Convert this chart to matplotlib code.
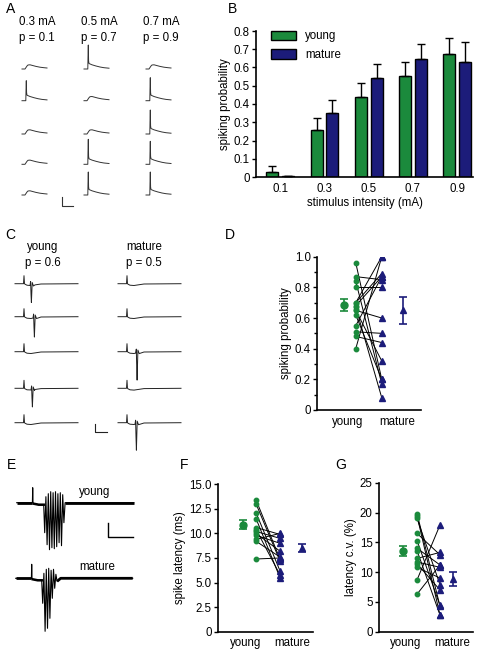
import matplotlib.pyplot as plt
import numpy as np
from matplotlib.ticker import MultipleLocator

plt.rcParams['font.family'] = ['Liberation Sans', 'DejaVu Sans']
plt.rcParams['font.size'] = 8.3

W, H = 481, 649
GREEN = '#1b8a3c'
NAVY = '#1c1c7a'

# ---- B: spiking probability vs stimulus intensity
intensity = ['0.1', '0.3', '0.5', '0.7', '0.9']
young_p = [0.03, 0.26, 0.44, 0.555, 0.675]
young_p_err = [0.03, 0.065, 0.075, 0.075, 0.085]
mature_p = [0.005, 0.35, 0.54, 0.645, 0.63]
mature_p_err = [0.0, 0.07, 0.08, 0.085, 0.11]

# ---- D: paired spiking probability
d_young = [0.96, 0.87, 0.84, 0.80, 0.70, 0.70, 0.68, 0.67, 0.65, 0.65, 0.55, 0.51, 0.48, 0.40, 0.62]
d_mature = [0.20, 0.85, 0.17, 0.80, 1.00, 0.89, 0.87, 0.08, 0.60, 0.32, 0.87, 0.50, 0.44, 1.00, 0.20]
d_mean = [0.685, 0.65]
d_sem = [0.042, 0.088]

# ---- F: spike latency (ms)
f_young = [13.4, 13.0, 12.1, 11.5, 10.6, 10.4, 10.2, 10.0, 9.8, 9.4, 9.2, 7.4]
f_mature = [7.4, 7.2, 6.2, 5.5, 9.9, 5.8, 9.5, 8.2, 9.0, 10.0, 7.6, 7.5]
f_mean = [10.9, 8.5]
f_sem = [0.45, 0.42]

# ---- G: latency c.v. (%)
g_young = [19.8, 19.4, 19.0, 16.5, 15.3, 14.0, 13.6, 12.3, 11.7, 11.4, 10.8, 8.7, 6.3]
g_mature = [4.3, 2.8, 7.9, 12.9, 4.4, 11.2, 2.8, 13.3, 10.8, 7.0, 9.0, 17.9, 11.2]
g_mean = [13.5, 8.85]
g_sem = [0.85, 1.25]

groups = ['young', 'mature']

# ---- example traces (sample points, px)
epsp_t = [0, 3, 4, 5, 6, 8, 11, 14, 18, 22, 25]
epsp_v = [0, 0, 1.5, 3.0, 4.0, 4.2, 3.4, 2.6, 1.8, 1.3, 1.0]
a_spikes = [[0, 20, 0, 0, 0],      # 0.3 mA
            [24, 0, 0, 25, 23],    # 0.5 mA
            [0, 23, 24, 23, 23]]   # 0.7 mA
a_cols = ['0.3 mA\np = 0.1', '0.5 mA\np = 0.7', '0.7 mA\np = 0.9']

c_base_t = [0, 8.5, 9, 9.5, 10, 12, 16, 20, 26, 63]
c_base_v = [0, 0, 8, 0, -0.5, -1.5, -1.8, -1.2, -0.3, 0]
c_young = [(16, 17), (19, 19), None, (17, 17), None]
c_mature = [None, None, (18.7, 27), None, (18, 26)]

e_young_t = [0, 15.7, 16, 16.3, 17, 22, 27, 28, 29.2, 30.4, 31.6, 32.8, 34, 35.2, 36.4, 37.6,
             38.8, 40, 41.2, 42.4, 43.6, 44.8, 46, 47.2, 48.4, 52, 117]
e_young_v = [0, 0, 15, 0, -1, -2, -2, -30, 6, -42, 9, -47, 11, -45, 10, -46, 11, -44, 9, -40,
             10, -43, 8, -20, 0, 0, 0]
e_mature_t = [0, 15.7, 16, 16.3, 17, 22, 26, 27, 28.2, 29.4, 30.6, 31.8, 33, 34.2, 35.4, 36.6,
              37.8, 39, 40.2, 41.4, 45, 117]
e_mature_v = [0, 0, 14, 0, -1, -2, -2, -25, 5, -53, 9, -50, 10, -40, 8, -20, 9, -10, 4, -3,
              0, 0]

fig = plt.figure(figsize=(W / 100, H / 100), dpi=100)


def place(l, t, r, b):
    return fig.add_axes([l / W, 1 - b / H, (r - l) / W, (b - t) / H])


def style(ax):
    for s in ['top', 'right']:
        ax.spines[s].set_visible(False)
    for s in ['left', 'bottom']:
        ax.spines[s].set_linewidth(1.2)
    ax.tick_params(axis='y', width=1.0, length=3, pad=1.5)
    ax.tick_params(axis='x', length=0, pad=4)


# overlay in pixel coordinates for traces, scale bars and labels
tr = fig.add_axes([0, 0, 1, 1])
tr.set_xlim(0, W)
tr.set_ylim(H, 0)
tr.axis('off')

for lbl, (x, y) in zip('ABCDEFG', [(6, 9), (228, 9), (5, 235), (225, 235),
                                      (7, 465), (180, 465), (335, 465)]):
    tr.text(x, y, lbl, fontsize=10, ha='left', va='center')

# A
a_x = [22, 84, 146]
a_y = [69, 100.7, 134, 164.3, 195]
for ci, x0 in enumerate(a_x):
    tr.text(x0 - 3, 30, a_cols[ci], ha='left', va='center', linespacing=1.35)
    for ri, y0 in enumerate(a_y):
        h = a_spikes[ci][ri]
        if h:
            t = [0, 3.8, 4.0, 4.3, 4.6, 5.0, 8, 12, 16, 20, 25]
            v = [0, 0, h / 2, h, 8, 5.5, 4.2, 3, 2, 1.3, 0.8]
        else:
            t, v = epsp_t, epsp_v
        tr.plot(x0 + np.array(t), y0 - np.array(v), color='#333333', lw=0.7)
tr.plot([61.7, 61.7, 72.7], [196.7, 206, 206], color='#333333', lw=0.8)


# C
def c_trace(x0, y0, spk):
    t = list(c_base_t)
    v = list(c_base_v)
    if spk:
        s, d = spk
        base = np.interp(s, c_base_t, c_base_v)
        st = [s - 1.0, s - 0.4, s, s + 0.4, s + 1.2, s + 2.5]
        sv = [base, base + 4, base - d / 2, base - d, base + 3, base - 0.5]
        keep = [i for i in range(len(t)) if t[i] < s - 1.0 or t[i] > s + 2.5]
        pts = sorted([(t[i], v[i]) for i in keep] + list(zip(st, sv)))
        t, v = zip(*pts)
    tr.plot(x0 + np.array(t), y0 - np.array(v), color='#222222', lw=0.7)


c_y = [283.7, 316.7, 351.7, 388.3, 422.7]
for ri, y0 in enumerate(c_y):
    c_trace(15, y0, c_young[ri])
    c_trace(118, y0, c_mature[ri])
tr.text(43, 255, 'young\np = 0.6', ha='center', va='center', linespacing=1.35)
tr.text(144, 255, 'mature\np = 0.5', ha='center', va='center', linespacing=1.35)
tr.plot([95, 95, 107.3], [424, 431.7, 431.7], color='#222222', lw=0.8)


# E
def e_trace(x0, y0, t, v):
    t = np.array(t)
    v = np.array(v)
    tr.plot(x0 + t, y0 - v, color='black', lw=0.8)
    flat = v == 0
    tr.plot(x0 + t[:2], y0 - v[:2], color='black', lw=2.0, solid_capstyle='butt')
    tr.plot(x0 + t[-3:], y0 - v[-3:], color='black', lw=2.0, solid_capstyle='butt')
    tr.plot(x0 + t[4:7], y0 - v[4:7], color='black', lw=1.8)


e_trace(16.7, 502.7, e_young_t, e_young_v)
e_trace(15.7, 578.3, e_mature_t, e_mature_v)
tr.text(79, 492, 'young', ha='left', va='center')
tr.text(79, 567, 'mature', ha='left', va='center')
tr.plot([108.3, 108.3, 132.7], [523, 537, 537], color='black', lw=1.0)

# B
axB = place(256, 31, 473, 177)
xb = np.arange(len(intensity))
axB.bar(xb - 0.18, young_p, 0.27, color=GREEN, edgecolor='black', lw=1.0, label='young',
        yerr=[np.zeros(5), young_p_err], capsize=3, error_kw=dict(lw=1.0, capthick=1.0))
axB.bar(xb + 0.18, mature_p, 0.27, color=NAVY, edgecolor='black', lw=1.0, label='mature',
        yerr=[np.zeros(5), mature_p_err], capsize=3, error_kw=dict(lw=1.0, capthick=1.0))
axB.set_xlim(-0.55, 4.36)
axB.set_ylim(0, 0.8)
axB.set_xticks(xb, intensity)
axB.set_yticks(np.arange(0, 0.81, 0.1), ['0'] + ['%.1f' % v for v in np.arange(0.1, 0.81, 0.1)])
axB.set_xlabel('stimulus intensity (mA)', labelpad=2)
axB.set_ylabel('spiking probability', labelpad=2)
style(axB)
axB.legend(loc='upper left', bbox_to_anchor=(0.03, 1.06), frameon=False,
           handlelength=2.2, handleheight=0.9, labelspacing=0.6, borderpad=0.2)


def paired(ax, yv, mv, mean, sem, xp, xm):
    for a, b in zip(yv, mv):
        ax.plot([xp[0], xp[1]], [a, b], color='black', lw=0.7, zorder=2)
    ax.plot([xp[0]] * len(yv), yv, 'o', color=GREEN, ms=3.2, zorder=3)
    ax.plot([xp[1]] * len(mv), mv, '^', color=NAVY, ms=4, zorder=3)
    ax.errorbar(xm[0], mean[0], yerr=sem[0], fmt='o', color=GREEN, ms=5, capsize=3, lw=1.2,
                capthick=1.2)
    ax.errorbar(xm[1], mean[1], yerr=sem[1], fmt='^', color=NAVY, ms=5, capsize=3, lw=1.2,
                capthick=1.2)
    ax.set_xticks([1, 2], groups)
    style(ax)


# D
axD = place(317, 256.7, 421, 410)
paired(axD, d_young, d_mature, d_mean, d_sem, [1.16, 1.69], [0.92, 2.12])
axD.set_xlim(0.37, 2.49)
axD.set_ylim(0, 1.0)
axD.set_yticks([0, 0.2, 0.4, 0.6, 0.8, 1.0], ['0', '0.2', '0.4', '0.6', '0.8', '1.0'])
axD.yaxis.set_minor_locator(MultipleLocator(0.1))
axD.tick_params(axis='y', which='minor', length=2, width=1.0)
axD.set_ylabel('spiking probability', labelpad=2)

# F
axF = place(218, 484.3, 313, 631.7)
paired(axF, f_young, f_mature, f_mean, f_sem, [1.22, 1.74], [0.93, 2.22])
axF.set_xlim(0.39, 2.46)
axF.set_ylim(0, 15)
axF.set_yticks(np.arange(0, 15.1, 2.5), ['0'] + ['%.1f' % v for v in np.arange(2.5, 15.1, 2.5)])
axF.set_ylabel('spike latency (ms)', labelpad=2)
tr.text(267, 492, '**', ha='center', va='center', fontsize=10)

# G
axG = place(379, 482.7, 473, 631.7)
paired(axG, g_young, g_mature, g_mean, g_sem, [1.24, 1.74], [0.93, 2.02])
axG.set_xlim(0.41, 2.46)
axG.set_ylim(0, 25)
axG.set_yticks(np.arange(0, 26, 5))
axG.set_ylabel('latency c.v. (%)', labelpad=2)
tr.text(428, 492, '*', ha='center', va='center', fontsize=10)

fig.savefig('out.png', dpi=100)
